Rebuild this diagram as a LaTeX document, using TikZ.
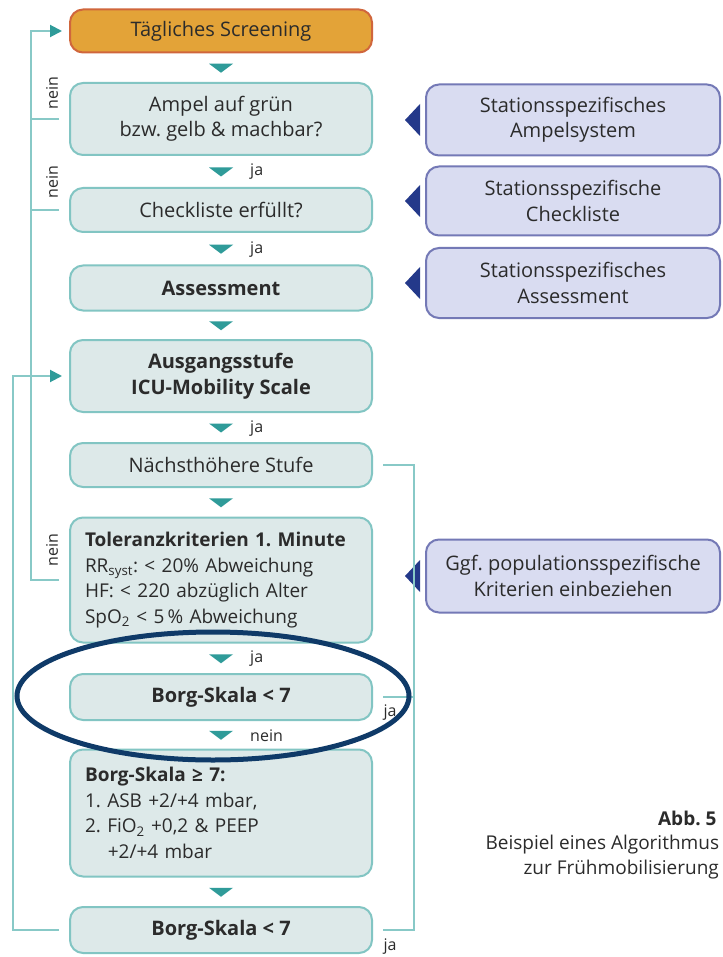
\documentclass[tikz,border=0pt]{standalone}
\usepackage{fontspec}
\setmainfont{Open Sans}
\frenchspacing
\usetikzlibrary{arrows.meta, calc}
\definecolor{boxfill}{HTML}{DDE9E9}
\definecolor{boxline}{HTML}{82C5C3}
\definecolor{flowteal}{HTML}{88C9C7}
\definecolor{tipteal}{HTML}{2F9B99}
\definecolor{startfill}{HTML}{E3A338}
\definecolor{startline}{HTML}{D0663C}
\definecolor{sidefill}{HTML}{D9DCF1}
\definecolor{sideline}{HTML}{7479B6}
\definecolor{sidetip}{HTML}{24398A}
\definecolor{ringblue}{HTML}{0F3A68}
\definecolor{inktext}{HTML}{2B2B2B}
\newcommand{\boxfont}{\fontsize{20}{25.5}\selectfont}
\newcommand{\listfont}{\fontsize{19}{25.5}\selectfont}
\newcommand{\capfont}{\fontsize{19}{25}\selectfont}
\newcommand{\smallfont}{\fontsize{16}{18}\selectfont}
\tikzset{
  stepbox/.style={rectangle, rounded corners=13pt, draw=boxline, fill=boxfill, line width=2pt,
    minimum width=302pt, align=center, text=inktext, font=\boxfont, inner sep=0pt},
  listbox/.style={stepbox, text width=272pt, align=left, font=\listfont},
  startbox/.style={stepbox, draw=startline, fill=startfill},
  sidebox/.style={rectangle, rounded corners=13pt, draw=sideline, fill=sidefill, line width=2pt,
    minimum width=294pt, align=center, text=inktext, font=\boxfont, inner sep=0pt},
  flowline/.style={draw=flowteal, line width=2pt},
  looptip/.style={-{Triangle[length=12pt, width=12pt, color=tipteal]}},
  steplabel/.style={text=inktext, font=\smallfont, inner sep=0pt},
  downtri/.pic={\fill[tipteal] (-12,-4) -- (12,-4) -- (0,5) -- cycle;},
  lefttri/.pic={\fill[sidetip] (7,-16) -- (7,16) -- (-8,0) -- cycle;}
}

\begin{document}
\begin{tikzpicture}[x=1pt, y=-1pt]

\clip (0,0) rectangle (722,957);
\fill[white] (0,0) rectangle (722,957);

% main column

\node[startbox, minimum height=43pt] (screen) at (221,31) {Tägliches Screening};
\node[stepbox, minimum height=72pt] (ampel) at (221,119) {Ampel auf grün\\bzw. gelb \& machbar?};
\node[stepbox, minimum height=44pt] (check) at (221,210) {Checkliste erfüllt?};
\node[stepbox, minimum height=45pt, font=\boxfont\bfseries] (assess) at (221,288) {Assessment};
\node[stepbox, minimum height=72pt, font=\boxfont\bfseries] (ausgang) at (221,376) {Ausgangsstufe\\ICU-Mobility Scale};
\node[stepbox, minimum height=44pt] (naechst) at (221,465) {Nächsthöhere Stufe};
\node[listbox, minimum height=125pt] (toler) at (221,580)
  {\textbf{Toleranzkriterien 1. Minute}\\RR\textsubscript{syst}: < 20\% Abweichung\\HF: < 220 abzüglich Alter\\SpO\textsubscript{2} < 5\,\% Abweichung};
\node[stepbox, minimum height=46pt, font=\boxfont\bfseries] (borgone) at (221,697) {Borg-Skala < 7};
\node[listbox, minimum height=127pt] (borgge) at (221,813)
  {\textbf{Borg-Skala ≥ 7:}\\1. ASB +2/+4 mbar,\\2. FiO\textsubscript{2} +0,2 \& PEEP\\\hspace*{1.2em}+2/+4 mbar};
\node[stepbox, minimum height=46pt, font=\boxfont\bfseries] (borgtwo) at (221,930) {Borg-Skala < 7};

% side boxes

\node[sidebox, minimum height=71pt] (sideone) at (573,120) {Stationsspezifisches\\Ampelsystem};
\node[sidebox, minimum height=69pt] (sidetwo) at (573,201) {Stationsspezifische\\Checkliste};
\node[sidebox, minimum height=70pt] (sidethree) at (573,283) {Stationsspezifisches\\Assessment};
\node[sidebox, minimum height=73pt] (sidefour) at (573,576) {Ggf. populationsspezifische\\Kriterien einbeziehen};

% triangles between steps

\foreach \u/\v in {screen/ampel, ampel/check, check/assess, assess/ausgang, ausgang/naechst,
                   naechst/toler, toler/borgone, borgone/borgge, borgge/borgtwo}
  \pic at ($(\u.south)!0.5!(\v.north)$) {downtri};

\foreach \s in {sideone, sidetwo, sidethree, sidefour}
  \pic at ([xshift=-12pt]\s.west) {lefttri};

% labels

\node[steplabel, anchor=west] at (250,172) {ja};
\node[steplabel, anchor=west] at (250,250) {ja};
\node[steplabel, anchor=west] at (250,429) {ja};
\node[steplabel, anchor=west] at (250,659) {ja};
\node[steplabel, anchor=west] at (250,736) {nein};
\node[steplabel, rotate=90] at (52,93) {nein};
\node[steplabel, rotate=90] at (52,182) {nein};
\node[steplabel, rotate=90] at (52,550) {nein};
\node[steplabel] at (390,713) {ja};
\node[steplabel] at (390,947) {ja};

% loops

\draw[flowline, looptip] ([xshift=-10pt]toler.west) -| ([xshift=-38pt]screen.west) -- ([xshift=-7pt]screen.west);
\draw[flowline] ([xshift=-10pt]ampel.west) -- ([xshift=-38pt]ampel.west);
\draw[flowline] ([xshift=-10pt]check.west) -- ([xshift=-38pt]check.west);
\draw[flowline, looptip] ([xshift=-10pt]borgtwo.west) -| ([xshift=-56pt]ausgang.west) -- ([xshift=-7pt]ausgang.west);
\draw[flowline] ([xshift=10pt]naechst.east) -| ([xshift=41pt]borgtwo.east) -- ([xshift=10pt]borgtwo.east);
\draw[flowline] ([xshift=10pt]borgone.east) -- ([xshift=41pt]borgone.east);

% highlight

\draw[ringblue, line width=5pt] (213,696) ellipse [x radius=196, y radius=64];

% caption

\node[anchor=east, font=\capfont\bfseries, text=inktext] (abb) at (720,818) {Abb. 5};
\node[anchor=west, font=\capfont, text=inktext] (capone) at (482,845) {Beispiel eines Algorithmus};
\node[anchor=west, font=\capfont, text=inktext] (captwo) at (520,870) {zur Frühmobilisierung};

\end{tikzpicture}
\end{document}
